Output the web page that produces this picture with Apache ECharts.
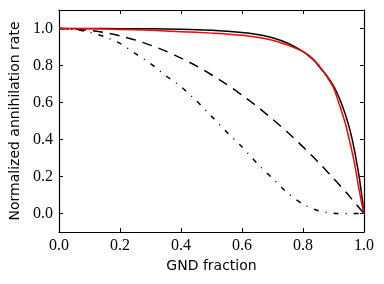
<!DOCTYPE html>
<html>
<head>
<meta charset="utf-8">
<script src="https://cdn.jsdelivr.net/npm/echarts@6/dist/echarts.min.js"></script>
<style>html,body{margin:0;padding:0;background:#fff;}#c{width:384px;height:284px;}</style>
</head>
<body>
<div id="c"></div>
<script>
var tickValues = [0, 0.2, 0.4, 0.6, 0.8, 1.0];

var solidX = [0, 0.1, 0.2, 0.3, 0.4, 0.5, 0.6, 0.65, 0.7, 0.75, 0.8, 0.82, 0.84, 0.86, 0.88, 0.9, 0.92, 0.94, 0.95, 0.96, 0.97, 0.98, 0.985, 0.99, 0.995, 1.0];
var solidY = [1, 1, 0.999, 0.998, 0.996, 0.99, 0.978, 0.967, 0.95, 0.92, 0.875, 0.85, 0.82, 0.78, 0.74, 0.69, 0.62, 0.53, 0.475, 0.41, 0.33, 0.24, 0.19, 0.13, 0.07, 0];

var redX = [0, 0.1, 0.2, 0.3, 0.4, 0.5, 0.6, 0.7, 0.75, 0.8, 0.82, 0.84, 0.86, 0.88, 0.9, 0.92, 0.94, 0.95, 0.96, 0.97, 0.98, 0.985, 0.99, 0.995, 1.0];
var redY = [1, 0.998, 0.995, 0.99, 0.983, 0.975, 0.963, 0.937, 0.91, 0.875, 0.853, 0.823, 0.783, 0.735, 0.68, 0.585, 0.48, 0.41, 0.34, 0.26, 0.165, 0.12, 0.075, 0.035, 0];

var dashX = [0, 0.05, 0.1, 0.15, 0.2, 0.25, 0.3, 0.35, 0.4, 0.45, 0.5, 0.55, 0.6, 0.65, 0.7, 0.75, 0.8, 0.85, 0.9, 0.95, 1.0];
var dashY = [1, 0.997, 0.99, 0.978, 0.96, 0.938, 0.91, 0.878, 0.84, 0.798, 0.75, 0.698, 0.64, 0.578, 0.51, 0.438, 0.36, 0.278, 0.19, 0.098, 0];

var dotX = [0, 0.05, 0.1, 0.15, 0.2, 0.25, 0.3, 0.35, 0.4, 0.45, 0.5, 0.55, 0.6, 0.65, 0.7, 0.75, 0.8, 0.85, 0.9, 0.95, 1.0];
var dotY = [1, 0.995, 0.98, 0.955, 0.92, 0.865, 0.81, 0.745, 0.685, 0.61, 0.525, 0.44, 0.36, 0.27, 0.19, 0.11, 0.05, 0.015, 0.002, 0, 0];

function pairs(xs, ys) { return xs.map(function (x, i) { return [x, ys[i]]; }); }

var serif = 'Liberation Serif';
var sans = 'DejaVu Sans';
var lineStyleAxis = { color: '#000', width: 1.2 };

function xAx(pos, show) {
  return {
    type: 'value', position: pos, min: 0, max: 1, interval: 0.2,
    name: show ? 'GND fraction' : '', nameLocation: 'middle', nameGap: 26,
    nameTextStyle: { fontFamily: sans, fontSize: 14, color: '#000' },
    axisLine: { show: true, onZero: false, lineStyle: lineStyleAxis },
    axisTick: { show: true, inside: true, length: 4, lineStyle: { color: '#000', width: 1 } },
    axisLabel: { show: show, margin: 6, fontFamily: serif, fontSize: 16, color: '#000', formatter: function (v) { return v.toFixed(1); } },
    splitLine: { show: false }
  };
}
function yAx(pos, show) {
  return {
    type: 'value', position: pos, min: -0.1, max: 1.1,
    name: show ? 'Normalized annihilation rate' : '', nameLocation: 'middle', nameGap: 36,
    nameTextStyle: { fontFamily: sans, fontSize: 14, color: '#000' },
    axisLine: { show: true, onZero: false, lineStyle: lineStyleAxis },
    axisTick: { show: true, inside: true, length: 4, customValues: tickValues, lineStyle: { color: '#000', width: 1 } },
    axisLabel: { show: show, margin: 6, fontFamily: serif, fontSize: 16, color: '#000', customValues: tickValues, formatter: function (v) { return v.toFixed(1); } },
    splitLine: { show: false }
  };
}

var chart = echarts.init(document.getElementById('c'), null, { renderer: 'canvas' });
chart.setOption({
  animation: false,
  backgroundColor: '#fff',
  grid: { left: 59, right: 20, top: 10, bottom: 52 },
  xAxis: [xAx('bottom', true), xAx('top', false)],
  yAxis: [yAx('left', true), yAx('right', false)],
  series: [
    { type: 'line', data: pairs(dashX, dashY), showSymbol: false, smooth: 0.25,
      lineStyle: { color: '#000', width: 1.5, type: [10, 7] } },
    { type: 'line', data: pairs(dotX, dotY), showSymbol: false, smooth: 0.25,
      lineStyle: { color: '#000', width: 1.5, type: [5, 7, 1, 7] } },
    { type: 'line', data: pairs(solidX, solidY), showSymbol: false, smooth: 0.25,
      lineStyle: { color: '#000', width: 1.5 } },
    { type: 'line', data: pairs(redX, redY), showSymbol: false, smooth: 0.25,
      lineStyle: { color: '#ff0000', width: 1.5 } }
  ]
});
</script>
</body>
</html>
